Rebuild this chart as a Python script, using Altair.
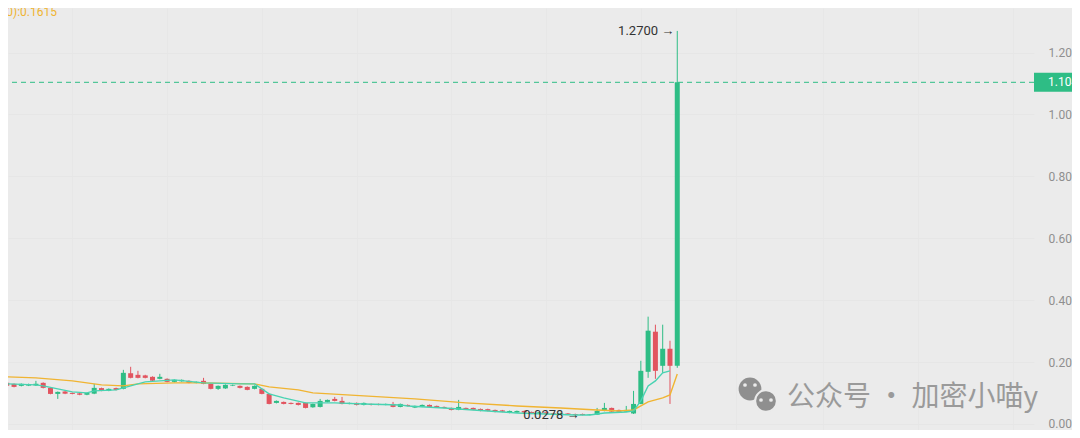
import altair as alt
import pandas as pd

# ---------------- data ----------------
index = list(range(93))
opens = [0.1329,0.1297,0.1232,0.1240,0.1245,0.1329,0.1167,0.0972,0.1050,0.1005,
         0.0990,0.0945,0.0980,0.1160,0.1075,0.1160,0.1135,0.1640,0.1588,0.1570,
         0.1524,0.1459,0.1459,0.1361,0.1380,0.1394,0.1329,0.1394,0.1297,0.1135,
         0.1150,0.1240,0.1232,0.1199,0.1135,0.1135,0.0972,0.0681,0.0713,0.0681,
         0.0681,0.0681,0.0540,0.0551,0.0713,0.0810,0.0746,0.0648,0.0681,0.0616,
         0.0648,0.0648,0.0620,0.0648,0.0551,0.0616,0.0530,0.0560,0.0616,0.0583,
         0.0551,0.0519,0.0460,0.0519,0.0519,0.0486,0.0480,0.0454,0.0440,0.0360,
         0.0370,0.0421,0.0389,0.0340,0.0375,0.0345,0.0315,0.0340,0.0320,0.0324,
         0.0290,0.0300,0.0421,0.0519,0.0454,0.0400,0.0340,0.0648,0.1686,0.2982,
         0.1880,0.2431,0.1880]
highs = [0.1345,0.1310,0.1310,0.1305,0.1394,0.1345,0.1180,0.1050,0.1065,0.1015,
         0.1005,0.1015,0.1297,0.1175,0.1150,0.1175,0.1750,0.1848,0.1718,0.1590,
         0.1540,0.1621,0.1475,0.1440,0.1440,0.1410,0.1375,0.1491,0.1310,0.1245,
         0.1280,0.1275,0.1245,0.1215,0.1245,0.1150,0.0985,0.0760,0.0725,0.0695,
         0.0695,0.0695,0.0660,0.0810,0.0790,0.0875,0.0875,0.0695,0.0695,0.0695,
         0.0660,0.0660,0.0660,0.0713,0.0660,0.0630,0.0595,0.0630,0.0630,0.0595,
         0.0565,0.0530,0.0778,0.0530,0.0530,0.0500,0.0495,0.0465,0.0455,0.0435,
         0.0435,0.0435,0.0400,0.0390,0.0390,0.0360,0.0360,0.0355,0.0335,0.0335,
         0.0320,0.0519,0.0681,0.0530,0.0465,0.0583,0.1070,0.2042,0.3468,0.3209,
         0.3209,0.2690,1.2700]
lows = [0.1215,0.1185,0.1215,0.1225,0.1230,0.1150,0.0960,0.0810,0.0965,0.0960,
        0.0930,0.0930,0.0965,0.1060,0.1060,0.1085,0.1120,0.1475,0.1475,0.1475,
        0.1385,0.1445,0.1345,0.1345,0.1365,0.1315,0.1315,0.1285,0.1120,0.1102,
        0.1135,0.1225,0.1150,0.1090,0.1120,0.0960,0.0635,0.0665,0.0635,0.0635,
        0.0600,0.0505,0.0525,0.0535,0.0700,0.0730,0.0635,0.0635,0.0600,0.0600,
        0.0600,0.0605,0.0605,0.0540,0.0540,0.0570,0.0515,0.0545,0.0540,0.0540,
        0.0505,0.0440,0.0445,0.0475,0.0445,0.0410,0.0410,0.0375,0.0380,0.0345,
        0.0355,0.0355,0.0320,0.0330,0.0320,0.0305,0.0300,0.0290,0.0285,0.0278,
        0.0282,0.0290,0.0410,0.0389,0.0380,0.0389,0.0324,0.0640,0.1491,0.1459,
        0.1653,0.0648,0.1815]
closes = [0.1232,0.1199,0.1297,0.1290,0.1300,0.1167,0.0972,0.1037,0.0980,0.0972,
          0.0945,0.1000,0.1167,0.1075,0.1135,0.1100,0.1653,0.1491,0.1491,0.1491,
          0.1400,0.1524,0.1361,0.1426,0.1426,0.1329,0.1361,0.1297,0.1135,0.1232,
          0.1264,0.1260,0.1167,0.1102,0.1232,0.0972,0.0648,0.0746,0.0648,0.0648,
          0.0616,0.0519,0.0648,0.0746,0.0778,0.0746,0.0648,0.0681,0.0616,0.0681,
          0.0616,0.0620,0.0648,0.0551,0.0648,0.0583,0.0583,0.0616,0.0551,0.0551,
          0.0519,0.0454,0.0551,0.0486,0.0460,0.0421,0.0425,0.0389,0.0395,0.0421,
          0.0421,0.0370,0.0335,0.0375,0.0330,0.0315,0.0345,0.0300,0.0290,0.0290,
          0.0310,0.0421,0.0519,0.0400,0.0395,0.0454,0.0648,0.1718,0.3015,0.1718,
          0.2431,0.1880,1.1040]

ma_short_idx = [0,4,5,7,9,11,12,15,16,17,19,23,27,32,34,36,38,41,45,49,54,55,60,62,
                66,70,78,80,82,85,86,87,88,89,90,91]
ma_short_val = [0.1297,0.1264,0.1232,0.1135,0.1037,0.1005,0.1070,0.1102,0.1167,0.1232,
                0.1361,0.1426,0.1329,0.1297,0.1297,0.0972,0.0843,0.0681,0.0681,0.0648,
                0.0616,0.0583,0.0519,0.0486,0.0421,0.0357,0.0292,0.0292,0.0357,0.0389,
                0.0421,0.0746,0.1232,0.1394,0.1653,0.1718]
ma_long_idx = [0,4,9,13,16,18,23,27,34,36,40,42,49,56,63,70,76,81,84,86,87,88,89,90,91,92]
ma_long_val = [0.1524,0.1491,0.1394,0.1264,0.1232,0.1297,0.1329,0.1329,0.1297,0.1199,
               0.1102,0.1005,0.0908,0.0810,0.0681,0.0583,0.0519,0.0454,0.0421,0.0454,
               0.0583,0.0713,0.0778,0.0843,0.0940,0.1615]

y_ticks = [0.0, 0.2, 0.4, 0.6, 0.8, 1.0, 1.2]
x_grid = [9, 22, 35, 48, 61, 74, 87, 100, 112, 125, 138]
last_price = 1.1040
high_price = 1.2700
high_idx = 92
low_price = 0.0278
low_idx = 79
legend_text = "MA(30):0.1615"
watermark = "公众号 · 加密小喵y"

# ---------------- styles ----------------
GREEN = "#2ebd85"
RED = "#e2545f"
MINT = "#48d3b2"
ORANGE = "#f0b432"
BG = "#ebebeb"

df = pd.DataFrame({"i": index, "open": opens, "high": highs, "low": lows, "close": closes})
df["dir"] = ["up" if c >= o else "down" for o, c in zip(opens, closes)]
ma_s = pd.DataFrame({"i": ma_short_idx, "v": ma_short_val})
ma_l = pd.DataFrame({"i": ma_long_idx, "v": ma_long_val})

xs = alt.Scale(domain=[0.856, 140.26], nice=False, zero=False)
ys = alt.Scale(domain=[-0.0194, 1.3441], nice=False, zero=False)

color = alt.Color("dir:N", scale=alt.Scale(domain=["up", "down"], range=[GREEN, RED]), legend=None)

base = alt.Chart(df)

wick = base.mark_rule(strokeWidth=1, clip=True).encode(
    x=alt.X("i:Q", scale=xs, axis=alt.Axis(values=x_grid, labels=False, ticks=False, domain=False,
                                            title=None, grid=True, gridColor="#e7e7e7")),
    y=alt.Y("low:Q", scale=ys, axis=alt.Axis(orient="right", values=y_ticks, format=".4f",
                                             labelColor="#8f8f8f", labelFontSize=12, labelFont="Roboto",
                                             ticks=False, domain=False, title=None, labelPadding=14,
                                             grid=True, gridColor="#e6e6e6")),
    y2="high:Q",
    color=color,
)
body = base.mark_bar(size=5, clip=True).encode(
    x=alt.X("i:Q", scale=xs), y=alt.Y("open:Q", scale=ys), y2="close:Q", color=color
)

line_s = alt.Chart(ma_s).mark_line(color=MINT, strokeWidth=1.4, clip=True).encode(
    x=alt.X("i:Q", scale=xs), y=alt.Y("v:Q", scale=ys)
)
line_l = alt.Chart(ma_l).mark_line(color=ORANGE, strokeWidth=1.4, clip=True).encode(
    x=alt.X("i:Q", scale=xs), y=alt.Y("v:Q", scale=ys)
)

dash = alt.Chart().mark_rule(color=GREEN, strokeDash=[5, 4], strokeWidth=1).encode(
    y=alt.datum(last_price, scale=ys)
)
tag = alt.Chart().mark_tick(orient="horizontal", color=GREEN, thickness=19, size=46, opacity=1).encode(
    x=alt.value(1049), y=alt.datum(last_price, scale=ys)
)
tag_text = alt.Chart().mark_text(align="left", baseline="middle", color="white", fontSize=12,
                                 font="Roboto").encode(
    x=alt.value(1040), y=alt.datum(last_price, scale=ys), text=alt.value(f"{last_price:.4f}")
)

hi_text = alt.Chart().mark_text(align="right", baseline="middle", color="#333333", fontSize=13,
                                font="Roboto", dx=-3).encode(
    x=alt.datum(high_idx, scale=xs), y=alt.datum(high_price, scale=ys), text=alt.value(f"{high_price:.4f} →")
)
lo_text = alt.Chart().mark_text(align="right", baseline="middle", color="#333333", fontSize=13,
                                font="Roboto", dx=-3).encode(
    x=alt.datum(low_idx, scale=xs), y=alt.datum(low_price, scale=ys), text=alt.value(f"{low_price:.4f} →")
)

legend = alt.Chart().mark_text(align="right", baseline="top", color=ORANGE, fontSize=12,
                               font="Roboto").encode(
    x=alt.value(49), y=alt.value(-1), text=alt.value(legend_text)
)

wm_text = alt.Chart().mark_text(align="left", baseline="middle", color="#9a9a9a", fontSize=28,
                                font="Noto Sans CJK SC").encode(
    x=alt.value(779), y=alt.value(390), text=alt.value(watermark)
)
ICON = "#8f8f8f"
bub1 = alt.Chart().mark_circle(color=ICON, opacity=1, size=520).encode(x=alt.value(742), y=alt.value(381))
bub2 = alt.Chart().mark_point(filled=True, fill=ICON, stroke=BG, strokeWidth=2, opacity=1, size=470,
                              shape="circle").encode(x=alt.value(758), y=alt.value(393))
eyes = [
    alt.Chart().mark_circle(color=BG, opacity=1, size=14).encode(x=alt.value(ex), y=alt.value(ey))
    for ex, ey in [(737, 377), (747, 377), (753, 392), (763, 392)]
]

chart = alt.layer(
    wick, body, line_l, line_s, dash, tag, tag_text, hi_text, lo_text, legend,
    bub1, bub2, *eyes, wm_text
).properties(
    width=1026, height=422,
    autosize=alt.AutoSizeParams(type="none"),
    padding={"left": 0, "top": 0, "right": 38, "bottom": 0},
    background=BG,
).configure_view(stroke=None)

chart.save("out.html", embed_options={"renderer": "svg", "actions": False})
